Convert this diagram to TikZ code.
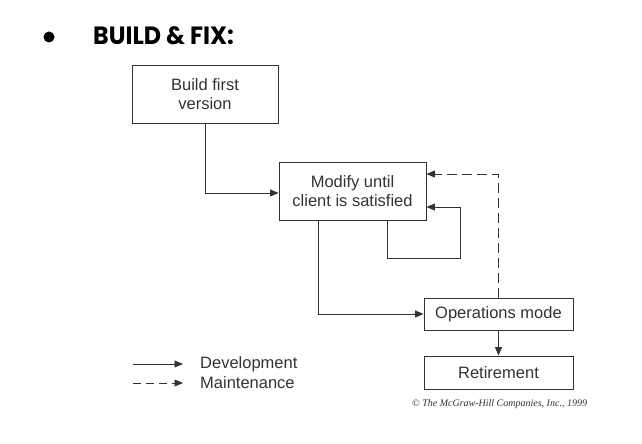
\documentclass[tikz,border=0pt]{standalone}
\usepackage{fontspec}
\setmainfont{Liberation Sans}
\newfontfamily\titlefont{Poppins}[UprightFont=* Bold]
\newfontfamily\cprfont{Liberation Serif}
\usetikzlibrary{arrows.meta}
\definecolor{ink}{HTML}{333333}
\tikzset{
  box/.style={draw=ink, line width=0.9pt, text=ink, align=center, inner sep=0pt,
    font=\fontsize{16.5}{19}\selectfont},
  dev/.style={draw=ink, line width=0.9pt, -{Triangle[length=8.5pt,width=7pt]}},
  mnt/.style={dev, dash pattern=on 10pt off 5pt},
  lbl/.style={text=ink, anchor=west, inner sep=0pt, font=\fontsize{16.5}{19}\selectfont}
}
\begin{document}
\begin{tikzpicture}[x=1pt,y=-1pt]
\useasboundingbox (0,0) rectangle (642,444);
\fill (49,37) circle (5.5pt);
\node[anchor=base west, inner sep=0pt, xscale=0.95, font=\titlefont\fontsize{25}{28}\selectfont] (title) at (93,45) {BUILD \& FIX:};
\node[box, minimum width=146pt, minimum height=58pt] (b1) at (205,94) {Build first\\version};
\node[box, minimum width=147pt, minimum height=58pt] (b2) at (352.5,191) {Modify until\\client is satisfied};
\node[box, minimum width=149pt, minimum height=32pt] (ops) at (498.5,314) {Operations mode};
\node[box, minimum width=149pt, minimum height=33pt] (ret) at (498.5,372.5) {Retirement};
\coordinate (loop) at (460,258);
\draw[dev] (b1.south) |- ([yshift=-2pt]b2.west);
\draw[dev] ([xshift=34.5pt]b2.south) |- (loop) |- ([yshift=-16pt]b2.east);
\draw[mnt] (ops.north) |- ([yshift=17pt]b2.east);
\draw[dev] ([xshift=-34.5pt]b2.south) |- (ops.west);
\draw[dev] (ops.south) -- (ret.north);
\coordinate (d1) at (133,364); \coordinate (d2) at (183,364);
\coordinate (m1) at (133,383); \coordinate (m2) at (183,383);
\draw[dev] (d1) -- (d2);
\draw[mnt, dash pattern=on 8pt off 5pt] (m1) -- (m2);
\node[lbl] (ld) at (200,364) {Development};
\node[lbl] (lm) at (200,383) {Maintenance};
\node[anchor=west, inner sep=0pt, text=ink, font=\cprfont\itshape\fontsize{10}{12}\selectfont] (cpr) at (412,404) {\textcopyright{} The McGraw-Hill Companies, Inc., 1999};
\end{tikzpicture}
\end{document}
